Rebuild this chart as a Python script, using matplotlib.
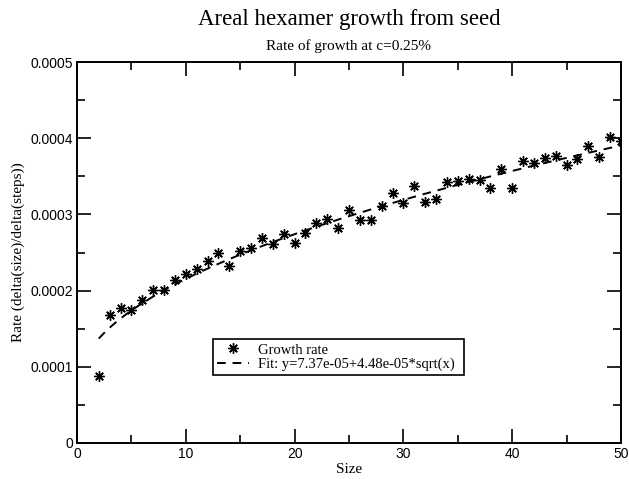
import matplotlib
matplotlib.use("Agg")
import matplotlib.pyplot as plt
import numpy as np
from matplotlib.ticker import MultipleLocator, FixedFormatter, FixedLocator

size = list(range(2, 51))
rate = [0.884e-4, 1.677e-4, 1.769e-4, 1.743e-4, 1.883e-4, 2.005e-4, 2.005e-4, 2.145e-4,
        2.215e-4, 2.277e-4, 2.382e-4, 2.496e-4, 2.329e-4, 2.518e-4, 2.553e-4, 2.684e-4,
        2.618e-4, 2.745e-4, 2.627e-4, 2.754e-4, 2.881e-4, 2.942e-4, 2.815e-4, 3.052e-4,
        2.925e-4, 2.925e-4, 3.109e-4, 3.275e-4, 3.152e-4, 3.371e-4, 3.165e-4, 3.196e-4,
        3.424e-4, 3.437e-4, 3.459e-4, 3.446e-4, 3.341e-4, 3.599e-4, 3.341e-4, 3.700e-4,
        3.678e-4, 3.743e-4, 3.765e-4, 3.643e-4, 3.730e-4, 3.897e-4, 3.757e-4, 4.019e-4,
        3.962e-4]
fit_a = 7.37e-05
fit_b = 4.48e-05
x_ticks = [0, 10, 20, 30, 40, 50]
x_ticklabels = ["0", "10", "20", "30", "40", "50"]
y_ticks = [0, 0.0001, 0.0002, 0.0003, 0.0004, 0.0005]
y_ticklabels = ["0", "0.0001", "0.0002", "0.0003", "0.0004", "0.0005"]

serif = "Liberation Serif"
sans = "Liberation Sans"

fig = plt.figure(figsize=(6.29, 4.79), dpi=100)
ax = fig.add_axes([77/629, 1 - 443/479, (621-77)/629, (443-62)/479])

xs = np.linspace(min(size), max(size), 200)
ax.plot(size, rate, linestyle="none", marker=(8, 2, 0), markersize=7.5,
        markeredgewidth=1.0, color="black", label="Growth rate")
ax.plot(xs, fit_a + fit_b * np.sqrt(xs), linestyle=(0, (4.5, 3.5)), color="black",
        linewidth=1.4, label="Fit: y=7.37e-05+4.48e-05*sqrt(x)")

ax.set_xlim(0, 50)
ax.set_ylim(0, 0.0005)
ax.xaxis.set_major_locator(FixedLocator(x_ticks))
ax.xaxis.set_major_formatter(FixedFormatter(x_ticklabels))
ax.yaxis.set_major_locator(FixedLocator(y_ticks))
ax.yaxis.set_major_formatter(FixedFormatter(y_ticklabels))
ax.xaxis.set_minor_locator(MultipleLocator(5))
ax.yaxis.set_minor_locator(MultipleLocator(0.00005))
ax.tick_params(which="both", direction="in", top=True, right=True, width=1.2)
ax.tick_params(which="major", length=10, pad=3)
ax.tick_params(which="minor", length=6)
for lab in ax.get_xticklabels() + ax.get_yticklabels():
    lab.set_fontfamily(sans)
    lab.set_fontsize(10)
for sp in ax.spines.values():
    sp.set_linewidth(1.4)

ax.set_xlabel("Size", fontfamily=serif, fontsize=11, labelpad=1)
ax.set_ylabel("Rate (delta(size)/delta(steps))", fontfamily=serif, fontsize=11, labelpad=4)

cx = (77 + 621) / 2 / 629
fig.text(cx, 1 - 19/479, "Areal hexamer growth from seed", ha="center", va="center",
         fontfamily=serif, fontsize=16.5)
fig.text(cx, 1 - 46/479, "Rate of growth at c=0.25%", ha="center", va="center",
         fontfamily=serif, fontsize=11)

leg = ax.legend(loc="lower left", bbox_to_anchor=(0.250, 0.178, 0.462, 0.105),
                mode="expand", fancybox=False, edgecolor="black", framealpha=1,
                prop={"family": serif, "size": 10.5}, handlelength=2.2,
                borderpad=0.3, labelspacing=0.05, handletextpad=0.6, borderaxespad=0)
leg.get_frame().set_linewidth(1.2)

fig.savefig("out.png", dpi=100)
